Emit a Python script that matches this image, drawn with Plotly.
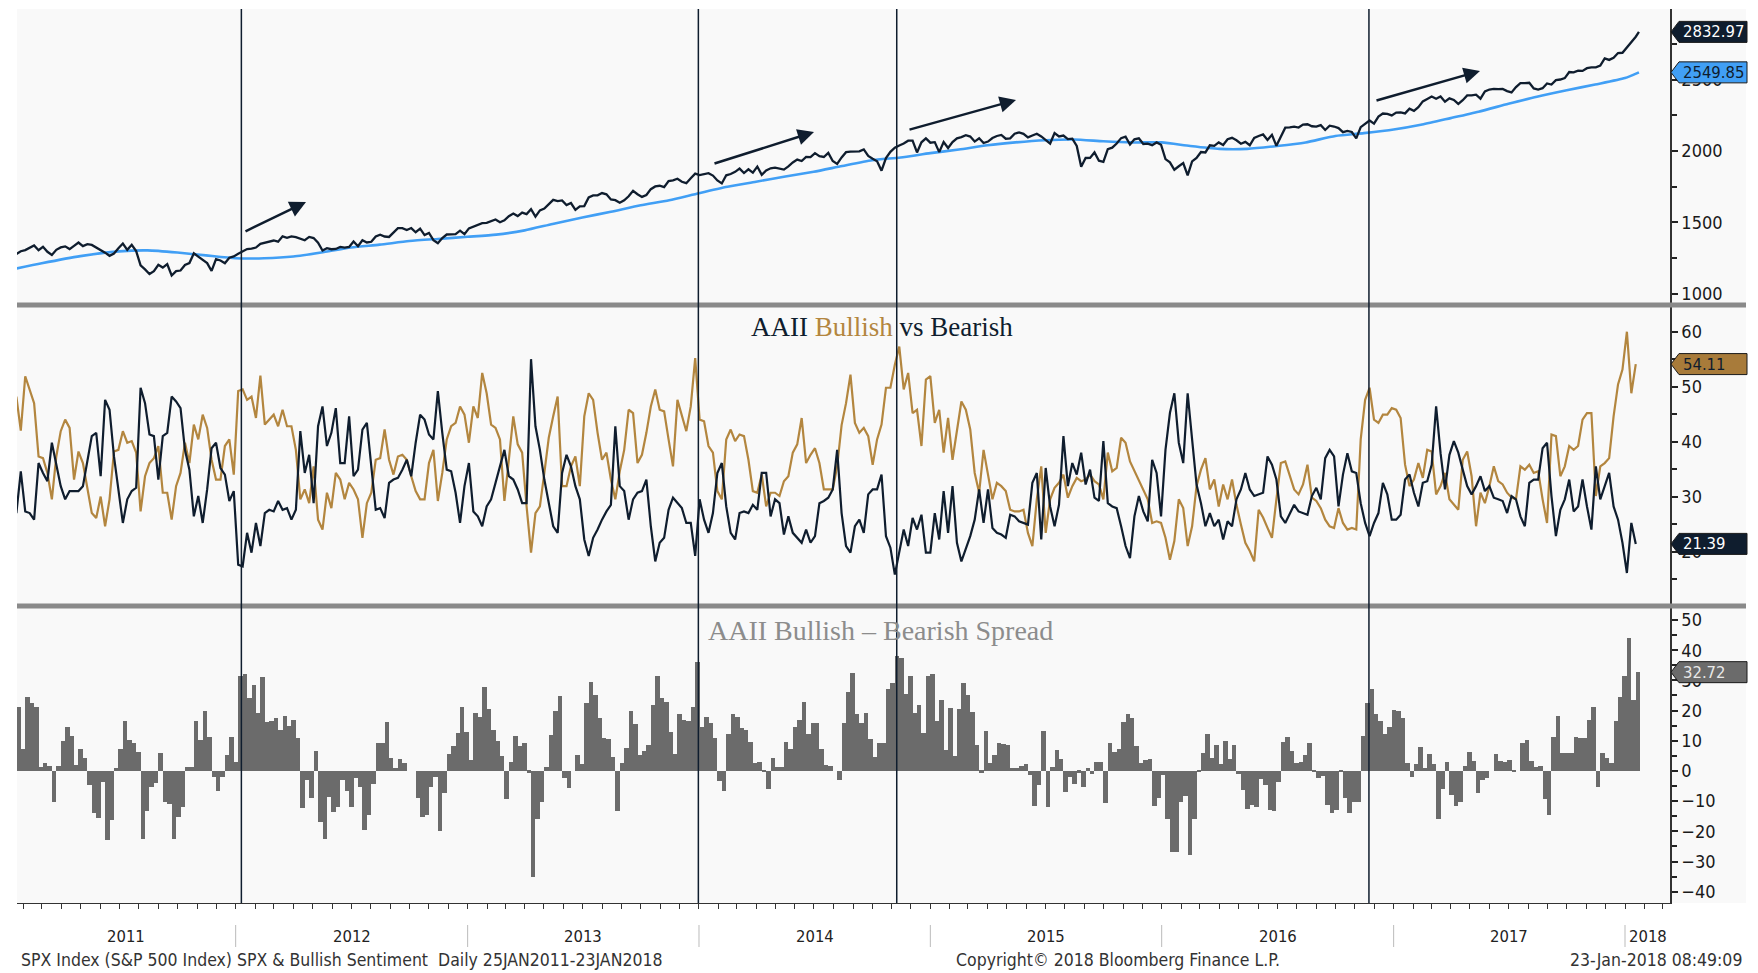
import pandas as pd
import plotly.graph_objects as go

# ------------------------------------------------------------------ data
week_start = "2011-01-20"          # weekly AAII observations (Thursdays)

bullish = [
    48.2, 42, 51.9, 49.5, 47, 37.3, 37, 34.3, 29.5, 37.3,
    41.9, 44, 42.5, 33.1, 38.2, 36.1, 31.3, 27, 26.1, 30,
    24.6, 29.5, 38.2, 38.5, 41.9, 39.8, 40.1, 38, 27.3, 33.7,
    36.1, 37, 39.2, 30.7, 30.7, 25.8, 31.9, 34.3, 39.8, 36.1,
    43.1, 40.4, 44.9, 42.5, 36.7, 33.1, 33.1, 39.2, 40.4, 34,
    49.2, 49.5, 47.6, 48.2, 44.3, 52, 43.1, 44, 44.9, 42.8,
    45.8, 42.8, 42.8, 38.5, 29.5, 31.3, 28.8, 35.5, 25.8, 24,
    30.7, 27.9, 34.3, 33.1, 29.5, 32.5, 31.3, 29.5, 22.5, 28.8,
    30.7, 36.7, 37, 42.2, 36.7, 34, 37.3, 37.6, 36.7, 33.7,
    31, 29.5, 29.5, 36.1, 38.5, 29.2,
    34.3, 40.4, 42.8, 43.4, 46.4, 44.9, 39.8, 46.4, 44.3, 52.5,
    48.8, 43.1, 42.5, 40.4, 29.2, 36.7, 44.6, 39.5, 38, 28.2,
    19.8, 27, 28.2, 34.3, 40.7, 44.6, 48.2, 31.9, 31.9, 35.5,
    37.3, 31.9, 44.6, 48.8, 47.6, 41.6, 36.7, 38, 33.1, 29.5,
    34.6, 38.5, 45.8, 45.2, 36.1, 37.6, 41.6, 46.4, 49.5, 45.8,
    45.5, 40.4, 35.5, 47.6, 44.9, 41.9, 46.4, 55.2, 44, 43.7,
    39.2, 38, 31, 29.5, 40.4, 42.2, 40.1, 41.3, 41, 36.7,
    31, 30.7, 34, 28.2, 30.7, 30.7, 30.1, 32.8, 33.7, 38,
    39.5, 44.3, 36.1, 37.6, 38.8, 36.1, 31.3, 31.3, 31.3, 35.5,
    43, 47, 52.2, 43.4, 41.6,
    42.5, 41, 35.8, 40.4, 43.1, 49.8, 49.8, 54, 57.3, 49.5,
    52.5, 45.2, 45.8, 39.2, 51.3, 51.9, 43.4, 45.8, 38, 44.3,
    36.7, 42.2, 47.3, 45.8, 42.2, 34.3, 30.7, 38.5, 34, 29.5,
    32.5, 31.9, 31, 27.6, 27.3, 27.3, 27.6, 23.4, 21, 29.5,
    35.5, 23.4, 29.5, 31.6, 32.5, 34, 29.8, 31.9, 33.4, 32.8,
    33.1, 34, 32.8, 32.2, 29.5, 38, 34.6, 35.2, 40.7, 39.8,
    36.4, 34.6, 32.8, 31, 29.5, 25.2, 25.5, 25.2, 22.5, 18.5,
    21.9, 29.5, 27.9, 21, 24.6, 31.9, 34.9, 37, 31.3, 33.1,
    28.2, 32.2, 29.5, 33.1, 28.5, 24.9, 21.6, 20.1, 18.2, 27.6,
    26.2, 24.3,
    22.5, 29.5, 36.1, 36.4, 33.7, 31.3, 30.4, 32.2, 35.8, 29.8,
    29.2, 27.9, 25.8, 24.6, 24.3, 27.9, 25.2, 24, 24.3, 24,
    40.4, 47.6, 49.8, 44, 43.4, 44.9, 44.9, 46.1, 45.8, 44.3,
    35.8, 31.9, 33.1, 36.1, 33.4, 38.5, 38.2, 30.4, 31.9, 34.3,
    29.5, 28.5, 27.6, 36.7, 38.2, 33.7, 24.6, 30.7, 28.8, 31.9,
    35.5, 32.8, 32.2, 30.7, 29.8, 29.5, 35.5, 34.9, 35.8, 34.3,
    34.6, 29.5, 25.2, 41.3, 41, 33.7, 35.5, 39.2, 38.5, 39.2,
    44, 45.2, 45.2, 30.1, 35.5, 36.1, 37, 44.6, 50.4, 53.1,
    60, 48.8, 54.11,
]

bearish = [
    27, 34.6, 27.3, 27, 25.8, 36.1, 34.3, 32.8, 39.8, 35.5,
    31.9, 29.5, 31, 31, 31, 31.9, 36.1, 41, 41.6, 33.7,
    47.6, 45.8, 37.3, 31.3, 25.2, 29.5, 31, 31.6, 49.8, 47,
    41.3, 41, 33.1, 41, 41.6, 48.2, 47.3, 46.1, 38.5, 34.9,
    26.4, 30.1, 25.2, 31.3, 38.8, 39.8, 35.2, 34, 29.2, 31,
    17.6, 17.3, 23.4, 19.8, 25.2, 21, 27, 27.6, 27.3, 29.2,
    27.6, 27.9, 25.8, 27.6, 41.9, 34.3, 37.6, 28.8, 42.8, 46.4,
    39.2, 41.6, 46.1, 36.1, 36.1, 44.6, 33.7, 34.9, 42.2, 43.4,
    34.9, 27.6, 27.9, 26.1, 32.5, 33.1, 33.4, 34.9, 36.7, 33.7,
    39.8, 44.9, 44, 41.3, 40.4, 49.2,
    41.6, 34.9, 34.6, 30.7, 25.2, 31.9, 36.1, 27.3, 26.4, 24.6,
    28.2, 29.5, 32.5, 35.5, 38.5, 33.7, 33.1, 31.3, 28.8, 28.8,
    55, 42.8, 38.5, 33.1, 28.8, 24.6, 23.4, 34.3, 37.6, 35.5,
    31.9, 29.5, 22.2, 19.2, 22.5, 24, 25.8, 27.3, 28.5, 42.8,
    31.9, 31, 25.8, 29.5, 30.7, 31, 33.1, 24.6, 18.2, 21.6,
    22.5, 27.6, 29.8, 28.8, 27.9, 25.2, 25.2, 19.2, 29.5, 25.8,
    23.4, 27, 34.3, 36.1, 28.2, 23.4, 22.2, 27, 27.3, 27,
    28.5, 27.6, 34.3, 34.3, 26.4, 29.5, 28.8, 23.1, 26.4, 23.4,
    22.5, 21.6, 24, 21.6, 22.8, 28.8, 29.2, 29.8, 31.3, 38.5,
    27, 21, 19.8, 24.6, 25.8,
    23.4, 30.4, 31.3, 31.3, 34, 22.8, 20.7, 15.8, 19.8, 24,
    21, 26.1, 24, 26.7, 19.8, 19.8, 27, 22.2, 31, 23.4,
    31.9, 21.6, 18.2, 20.7, 22.8, 25.8, 31.3, 25.2, 31.3, 24.3,
    23.4, 23.1, 22.5, 26.7, 26.4, 25.5, 25.2, 24.9, 32.5, 34.3,
    22.2, 35.2, 28.2, 24.6, 28.5, 41, 31.9, 36.1, 34, 38,
    32.2, 34.9, 29.8, 29.2, 40.1, 28.8, 28.2, 27.9, 24.6, 21,
    18.8, 26.4, 30.1, 27.3, 25.5, 36.7, 34.3, 26.4, 38.5, 45.2,
    48.8, 39.8, 36.1, 48.8, 40.4, 32.2, 28.8, 24.6, 27, 24.6,
    25.8, 22.2, 25.5, 24.6, 29.5, 31.3, 34.3, 31.3, 30.1, 30.4,
    30.7, 37.3,
    35.8, 33.1, 26.4, 25.2, 27, 28.5, 27.3, 27, 26.7, 30.1,
    31.6, 29.5, 37, 38.5, 37.3, 28.2, 34, 37.9, 34.6, 34.3,
    28.8, 25.2, 22.8, 25.2, 27, 32.5, 30.4, 25.8, 25.8, 26.7,
    33.1, 34, 30.7, 28.2, 32.5, 32.8, 35.8, 46.4, 37.9, 31.3,
    37.6, 40.1, 38, 34.9, 31.9, 30.4, 31.9, 33.7, 31, 31.9,
    29.8, 29.5, 29.2, 27, 30.1, 29.5, 26.4, 24.6, 32.5, 33.1,
    33.1, 38.8, 39.8, 30.1, 22.8, 27.6, 29.5, 33.1, 27.3, 28.2,
    33.1, 28.2, 24, 35.5, 29.5, 31.9, 34.3, 28.2, 25.8, 21.6,
    16.1, 25.2, 21.39,
]

spx_2011 = [1280, 1299, 1307, 1321, 1340, 1306, 1330, 1295, 1273, 1309,
            1326, 1333, 1314, 1337, 1360, 1335, 1348, 1343, 1325, 1313,
            1289, 1267, 1283, 1320, 1353, 1309, 1344, 1300, 1200, 1172,
            1140, 1159, 1204, 1185, 1209, 1129, 1160, 1164, 1203, 1216,
            1284, 1261, 1239, 1216, 1161, 1244, 1234, 1215, 1254, 1263]
spx_2012 = [1281, 1295, 1314, 1318, 1325, 1351, 1358, 1363, 1374, 1366,
            1403, 1393, 1403, 1398, 1387, 1376, 1399, 1391, 1358, 1304,
            1320, 1313, 1315, 1329, 1325, 1329, 1367, 1334, 1376, 1360,
            1365, 1402, 1415, 1402, 1399, 1432, 1460, 1460, 1447, 1461,
            1432, 1457, 1412, 1427, 1377, 1355, 1391, 1416, 1418, 1419,
            1443, 1418]
spx_2013 = [1459, 1472, 1480, 1495, 1498, 1509, 1521, 1502, 1515, 1544,
            1563, 1545, 1569, 1559, 1593, 1541, 1585, 1597, 1627, 1658,
            1650, 1654, 1622, 1636, 1588, 1613, 1615, 1675, 1689, 1690,
            1706, 1697, 1661, 1656, 1638, 1655, 1683, 1722, 1698, 1679,
            1692, 1733, 1752, 1757, 1747, 1790, 1795, 1806, 1785, 1775,
            1810, 1842]
spx_2014 = [1832, 1838, 1845, 1828, 1794, 1773, 1830, 1839, 1854, 1877,
            1846, 1872, 1849, 1891, 1833, 1864, 1879, 1883, 1875, 1870,
            1892, 1920, 1940, 1930, 1959, 1957, 1985, 1964, 1958, 1987,
            1930, 1910, 1955, 1992, 1996, 1998, 1997, 2011, 1965, 1946,
            1928, 1862, 1950, 1994, 2023, 2039, 2052, 2072, 2072, 1990,
            2061, 2088]
spx_2015 = [2058, 2062, 1992, 2063, 2021, 2062, 2088, 2097, 2110, 2101,
            2066, 2089, 2056, 2066, 2091, 2105, 2112, 2086, 2088, 2121,
            2130, 2120, 2095, 2108, 2121, 2102, 2077, 2052, 2125, 2102,
            2108, 2083, 2086, 2035, 1890, 1951, 1952, 1990, 1932, 1924,
            2013, 2023, 2052, 2090, 2100, 2045, 2082, 2089, 2049, 2052,
            2041, 2060, 2044]
spx_2016 = [1943, 1921, 1869, 1893, 1915, 1829, 1927, 1951, 1993, 1990,
            2040, 2036, 2060, 2042, 2082, 2092, 2075, 2051, 2064, 2040,
            2091, 2105, 2116, 2077, 2113, 2036, 2097, 2163, 2165, 2170,
            2164, 2185, 2187, 2173, 2170, 2181, 2147, 2177, 2171, 2160,
            2132, 2141, 2133, 2088, 2167, 2188, 2213, 2191, 2241, 2262,
            2260, 2249]
spx_2017 = [2269, 2270, 2263, 2296, 2281, 2307, 2347, 2364, 2381, 2365,
            2381, 2345, 2368, 2357, 2329, 2355, 2389, 2389, 2394, 2366,
            2416, 2430, 2434, 2432, 2434, 2419, 2410, 2447, 2474, 2475,
            2477, 2438, 2430, 2439, 2472, 2465, 2496, 2500, 2510, 2552,
            2550, 2562, 2560, 2579, 2585, 2585, 2597, 2648, 2637, 2652,
            2685, 2687]
spx_2018 = [2724, 2767, 2799]
spx_last_date = "2018-01-23"
spx_last = 2832.97

ma_dates = ["2011-01-20", "2011-03-01", "2011-05-01", "2011-07-01", "2011-08-15", "2011-10-01", "2011-11-15",
            "2012-01-01", "2012-02-15", "2012-04-01", "2012-05-15", "2012-07-01", "2012-08-15", "2012-10-01", "2012-11-15",
            "2013-01-01", "2013-02-15", "2013-04-01", "2013-05-15", "2013-07-01", "2013-08-15", "2013-10-01", "2013-11-15",
            "2014-01-01", "2014-02-15", "2014-04-01", "2014-05-15", "2014-07-01", "2014-08-15", "2014-10-01", "2014-11-15",
            "2015-01-01", "2015-02-15", "2015-04-01", "2015-05-15", "2015-07-01", "2015-08-15", "2015-10-01", "2015-11-15",
            "2016-01-01", "2016-02-15", "2016-04-01", "2016-05-15", "2016-07-01", "2016-08-15", "2016-10-01", "2016-11-15",
            "2017-01-01", "2017-02-15", "2017-04-01", "2017-05-15", "2017-07-01", "2017-08-15", "2017-10-01", "2017-11-15",
            "2018-01-01", "2018-01-23"]
ma_values = [1178, 1215, 1265, 1298, 1305, 1290, 1270,
             1250, 1250, 1262, 1290, 1325, 1345, 1370, 1385,
             1400, 1415, 1445, 1490, 1535, 1575, 1620, 1655,
             1705, 1750, 1785, 1820, 1855, 1895, 1935, 1955,
             1985, 2010, 2040, 2060, 2075, 2080, 2068, 2060,
             2060, 2035, 2015, 2015, 2035, 2060, 2105, 2125,
             2150, 2185, 2230, 2275, 2330, 2380, 2425, 2465,
             2510, 2549.85]

marker_dates = ["2012-01-10", "2013-12-31", "2014-11-09", "2016-11-23"]
year_labels = ["2011", "2012", "2013", "2014", "2015", "2016", "2017", "2018"]

# ------------------------------------------------------------------ derived
wk = pd.date_range(week_start, periods=len(bullish), freq="7D")
spread = [round(b - s, 2) for b, s in zip(bullish, bearish)]
spx = spx_2011 + spx_2012 + spx_2013 + spx_2014 + spx_2015 + spx_2016 + spx_2017 + spx_2018
spx_x = list(pd.date_range(week_start, periods=len(spx), freq="7D")) + [pd.Timestamp(spx_last_date)]
spx_y = spx + [spx_last]

X0, X1 = "2011-01-21", "2018-03-13"

# ------------------------------------------------------------------ style
NAVY = "#0f1d2e"
GOLD = "#b3863f"
BLUE = "#419ff5"
BARC = "#6b6b6b"
NARROW = "DejaVu Sans Condensed, Liberation Sans Narrow, Arial Narrow, sans-serif"
SERIF = "Liberation Serif, DejaVu Serif, serif"

# the page body adds an 8px margin, so the figure is sized to fit the window
OFF = 8
W, H = 1758 - OFF, 973 - OFF
ML, MR, MT, MB = 17 - OFF, 88, 9 - OFF, 70
PW, PH = W - ML - MR, H - MT - MB
BOTTOM = OFF + MT + PH     # window pixel row of the plot bottom (903)


def py(pix):       # window pixel row -> paper y
    return (BOTTOM - pix) / PH


def px(pix):       # window pixel column -> paper x
    return (pix - OFF - ML) / PW


D_TOP = [py(305), 1.0]
D_MID = [py(606), py(305)]
D_BOT = [0.0, py(606)]

fig = go.Figure()
fig.add_trace(go.Bar(x=wk, y=spread, xaxis="x", yaxis="y3", marker_color=BARC,
                     marker_line_width=0, width=7 * 86400000, offset=0))
fig.add_trace(go.Scatter(x=wk, y=bullish, xaxis="x", yaxis="y2", mode="lines",
                         line=dict(color=GOLD, width=2.2)))
fig.add_trace(go.Scatter(x=wk, y=bearish, xaxis="x", yaxis="y2", mode="lines",
                         line=dict(color=NAVY, width=2.2)))
fig.add_trace(go.Scatter(x=pd.to_datetime(ma_dates), y=ma_values, xaxis="x", yaxis="y", mode="lines",
                         line=dict(color=BLUE, width=2.6, shape="spline", smoothing=0.6)))
fig.add_trace(go.Scatter(x=spx_x, y=spx_y, xaxis="x", yaxis="y", mode="lines",
                         line=dict(color=NAVY, width=2.3)))

yax_common = dict(side="right", anchor="x", showgrid=False, zeroline=False, showline=True,
                  linecolor="#333", linewidth=1.5, ticks="outside", ticklen=6, tickwidth=2,
                  tickcolor="#222", tickfont=dict(family=NARROW, size=18, color="#1a1a1a"))

fig.update_layout(
    width=W, height=H, margin=dict(l=ML, r=MR, t=MT, b=MB),
    paper_bgcolor="white", plot_bgcolor="#f9f9f9", showlegend=False, bargap=0,
    xaxis=dict(domain=[0, 1], anchor="y3", type="date", range=[X0, X1], showgrid=False,
               zeroline=False, showline=True, linecolor="#333", linewidth=1,
               ticks="outside", ticklen=5, tickcolor="#333", dtick="M1", tick0="2011-01-01",
               showticklabels=False),
    yaxis=dict(domain=D_TOP, range=[923, 2993], tickvals=[1000, 1500, 2000, 2500],
               minor=dict(tickvals=[1250, 1750, 2250, 2750], ticks="outside", ticklen=5,
                          tickcolor="#222"), **yax_common),
    yaxis2=dict(domain=D_MID, range=[10.09, 64.86], tickvals=[20, 30, 40, 50, 60],
                minor=dict(tickvals=[15, 25, 35, 45, 55], ticks="outside", ticklen=5,
                           tickcolor="#222"), **yax_common),
    yaxis3=dict(domain=D_BOT, range=[-43.74, 54.64], tickvals=list(range(-40, 51, 10)),
                minor=dict(tickvals=list(range(-35, 50, 10)), ticks="outside", ticklen=5,
                           tickcolor="#222"), **yax_common),
)

shapes = []
# light background behind the right-hand value labels
shapes.append(dict(type="rect", xref="paper", yref="paper", x0=1, x1=px(1746), y0=0, y1=1,
                   fillcolor="#f9f9f9", line=dict(width=0), layer="below"))
# panel separators
for yy in (py(305), py(606)):
    shapes.append(dict(type="line", xref="paper", yref="paper", x0=0, x1=px(1746), y0=yy, y1=yy,
                       line=dict(color="#8a8a8a", width=5)))
# event lines
for d in marker_dates:
    shapes.append(dict(type="line", xref="x", yref="paper", x0=d, x1=d, y0=0, y1=1,
                       line=dict(color=NAVY, width=1.5)))
# year separators in the label row
for yl in year_labels[1:]:
    d = f"{yl}-01-01"
    shapes.append(dict(type="line", xref="x", yref="paper", x0=d, x1=d, y0=py(925), y1=py(947),
                       line=dict(color="#bbbbbb", width=1)))

annotations = []
# year labels
x0t, x1t = pd.Timestamp(X0), pd.Timestamp(X1)
for yl in year_labels:
    a = max(pd.Timestamp(f"{yl}-01-01"), x0t)
    b = min(pd.Timestamp(f"{int(yl) + 1}-01-01"), x1t)
    annotations.append(dict(x=a + (b - a) / 2, y=py(936), xref="x", yref="paper", text=yl,
                            xanchor="center", yanchor="middle", showarrow=False,
                            font=dict(family=NARROW, size=16.5, color="#222")))

# footer
foot = dict(family=NARROW, size=17.5, color="#333")
annotations += [
    dict(x=px(19), y=py(960), xref="paper", yref="paper", xanchor="left", yanchor="middle",
         showarrow=False,
         text="SPX Index (S&P 500 Index) SPX & Bullish Sentiment  Daily 25JAN2011-23JAN2018", font=foot),
    dict(x=px(1118), y=py(960), xref="paper", yref="paper", xanchor="center", yanchor="middle",
         showarrow=False, text="Copyright© 2018 Bloomberg Finance L.P.", font=foot),
    dict(x=px(1744), y=py(960), xref="paper", yref="paper", xanchor="right", yanchor="middle",
         showarrow=False, text="23-Jan-2018 08:49:09", font=foot),
]

# panel titles
annotations.append(dict(x=px(882), y=py(327), xref="paper", yref="paper", showarrow=False,
                        xanchor="center", yanchor="middle",
                        text=f'AAII <span style="color:{GOLD}">Bullish</span> vs Bearish',
                        font=dict(family=SERIF, size=27, color=NAVY)))
annotations.append(dict(x=px(881), y=py(630), xref="paper", yref="paper", showarrow=False,
                        xanchor="center", yanchor="middle",
                        text="AAII Bullish \u2013 Bearish Spread",
                        font=dict(family=SERIF, size=28, color="#8c8c8c")))

# trend arrows (tail -> head, window pixels)
arrows = [((244, 232), (306, 202)), ((713, 164), (814, 132)),
          ((908, 130), (1016, 100)), ((1375, 101), (1480, 71))]
for (tx, ty), (hx, hy) in arrows:
    annotations.append(dict(x=px(hx), y=py(hy), xref="paper", yref="paper", ax=tx - hx, ay=ty - hy,
                            axref="pixel", ayref="pixel", showarrow=True, arrowhead=2,
                            arrowsize=1.3, arrowwidth=2.5, arrowcolor=NAVY, text=""))

# last-value tags
tags = [("y", spx_y[-1], NAVY, "white"),
        ("y", ma_values[-1], BLUE, NAVY),
        ("y2", bullish[-1], "#a87b3a", NAVY),
        ("y2", bearish[-1], NAVY, "white"),
        ("y3", spread[-1], BARC, "#e8e8e8")]
for yref, val, fill, tcol in tags:
    shapes.append(dict(type="path", xref="paper", yref=yref, xsizemode="pixel", ysizemode="pixel",
                       xanchor=1, yanchor=val, path="M1,0 L9,10.5 L77,10.5 L77,-10.5 L9,-10.5 Z",
                       fillcolor=fill, line=dict(color="#1a1a1a", width=1), layer="above"))
    annotations.append(dict(x=1, xref="paper", xanchor="left", xshift=11, y=val, yref=yref,
                            yanchor="middle", text=f"{val:.2f}", showarrow=False,
                            font=dict(family=NARROW, size=16.5, color=tcol)))

fig.update_layout(shapes=shapes, annotations=annotations)
fig.write_html("out.html")
